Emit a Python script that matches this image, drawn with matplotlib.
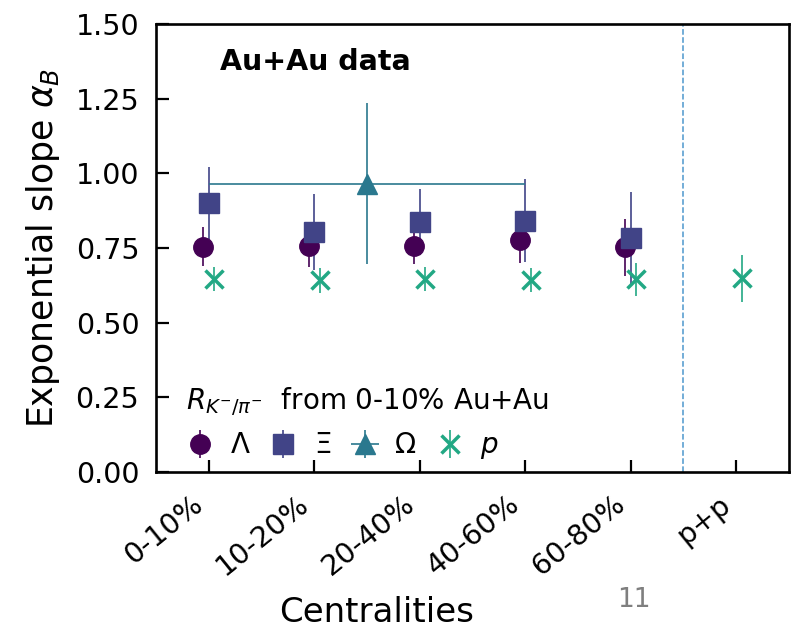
import matplotlib
matplotlib.use('Agg')
import matplotlib.pyplot as plt
import numpy as np

categories = ['0-10%', '10-20%', '20-40%', '40-60%', '60-80%', 'p+p']
lam_val = [0.755, 0.757, 0.757, 0.777, 0.752]
lam_err = [0.065, 0.07, 0.06, 0.077, 0.095]
xi_val = [0.900, 0.805, 0.837, 0.842, 0.783]
xi_err = [0.12, 0.127, 0.11, 0.14, 0.155]
omega_pos = [1.5]
omega_xerr = [1.5]
omega_val = [0.965]
omega_err = [0.27]
p_val = [0.647, 0.642, 0.645, 0.642, 0.645, 0.648]
p_err = [0.04, 0.042, 0.04, 0.04, 0.055, 0.08]

c_lam = '#440154'
c_xi = '#414487'
c_om = '#2a788e'
c_p = '#22a884'

plt.rcParams['font.family'] = ['DejaVu Sans']
fig = plt.figure(figsize=(7.94, 6.34), dpi=100)
ax = fig.add_axes([156/794, (634-472)/634, 633/794, 448/634])

x = np.arange(len(categories))
off = 0.05
ms = 14
lw = 1.2

h_lam = ax.errorbar(x[:5] - off, lam_val, yerr=lam_err, fmt='o', color=c_lam,
                    ms=ms, elinewidth=lw, capsize=0, label='Λ')
h_xi = ax.errorbar(x[:5], xi_val, yerr=xi_err, fmt='s', color=c_xi,
                   ms=ms, elinewidth=lw, capsize=0, label='Ξ')
h_om = ax.errorbar(omega_pos, omega_val, xerr=omega_xerr, yerr=omega_err, fmt='^',
                   color=c_om, ms=ms, elinewidth=lw, capsize=0, label='Ω')
h_p = ax.errorbar(x + off, p_val, yerr=p_err, fmt='x', color=c_p,
                  ms=13, mew=2.5, elinewidth=lw, capsize=0, label='$p$')

ax.axvline(4.5, color='#3a8cc8', lw=1.1, ls='--', alpha=0.9)

ax.set_xlim(-0.5, 5.5)
ax.set_ylim(0, 1.5)
ax.set_yticks([0, 0.25, 0.5, 0.75, 1.0, 1.25, 1.5])
ax.set_yticklabels(['0.00', '0.25', '0.50', '0.75', '1.00', '1.25', '1.50'])
ax.set_xticks(x)
ax.set_xticklabels(categories, rotation=39, ha='right', rotation_mode='default')

ax.tick_params(direction='in', length=9, width=1.6, labelsize=20.5,
               top=False, right=False)
ax.tick_params(axis='y', pad=12)
ax.tick_params(axis='x', pad=13)
for s in ax.spines.values():
    s.set_linewidth(1.9)

ax.set_ylabel(r'Exponential slope $\alpha_B$', fontsize=25, labelpad=10)
ax.set_xlabel('Centralities', fontsize=24.5)
ax.xaxis.set_label_coords((377-156)/633, (472-596)/448)

ax.text(0.101, 0.898, 'Au+Au data', transform=ax.transAxes, fontsize=20.5,
        fontweight='bold', ha='left', va='baseline')

leg = ax.legend(handles=[h_lam, h_xi, h_om, h_p], labels=['Λ', 'Ξ', 'Ω', '$p$'],
                loc='lower left', bbox_to_anchor=(0.035, 0.005), ncol=4,
                frameon=False, fontsize=20, handlelength=1.0, handletextpad=0.6,
                columnspacing=0.7, borderpad=0.3, borderaxespad=0,
                title=r'$R_{K^{-}/\pi^{-}}$  from 0-10% Au+Au', title_fontsize=20)
leg._legend_box.align = 'left'

fig.text(617/794, (634-607)/634, '11', fontsize=19, color='#7f7f7f',
         ha='left', va='baseline')

fig.savefig('out.png', dpi=100)
